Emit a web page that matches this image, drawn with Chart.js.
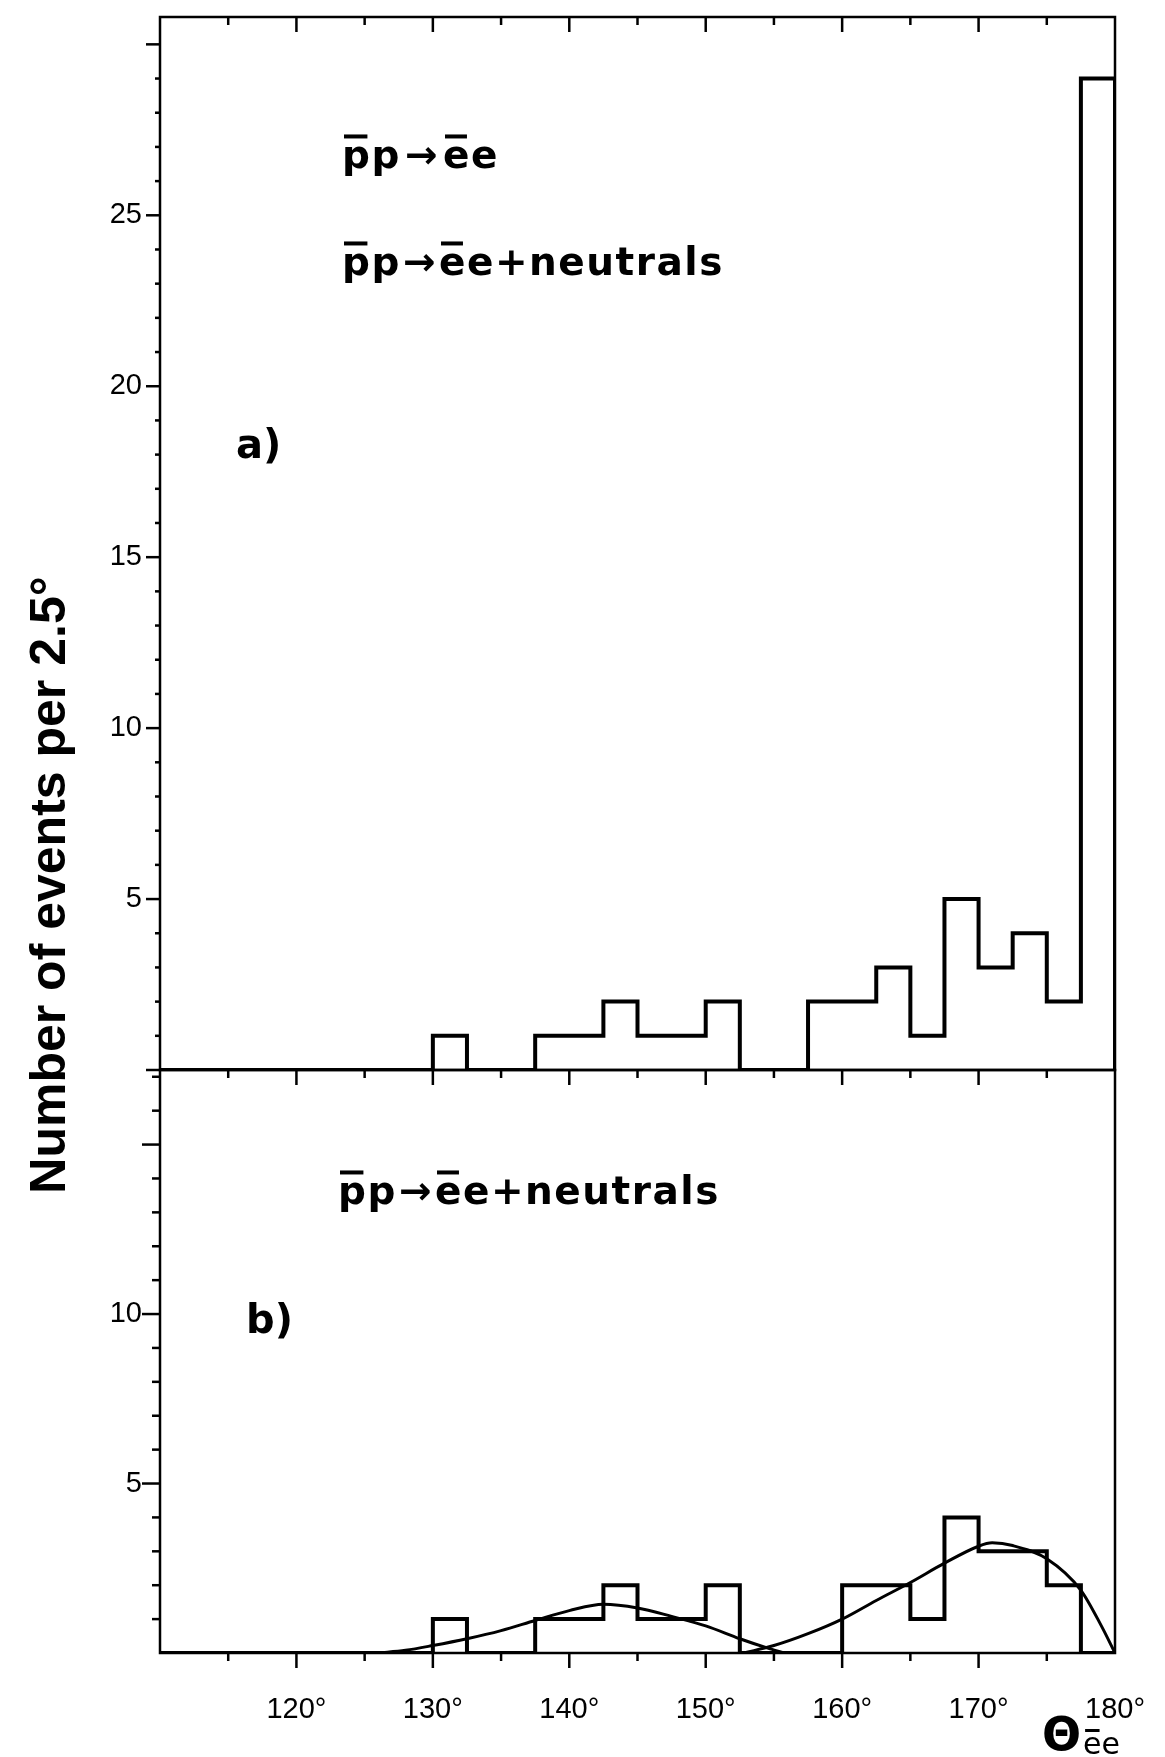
<!DOCTYPE html>
<html>
<head>
<meta charset="utf-8">
<script src="https://cdn.jsdelivr.net/npm/chart.js@4.4.1/dist/chart.umd.min.js"></script>
<style>
  html, body { margin: 0; padding: 0; background: #fff; }
  body { width: 1165px; height: 1757px; position: relative; overflow: hidden; }
  canvas { position: absolute; left: 0; top: 0; }
</style>
</head>
<body>
<canvas id="chartA" width="1165" height="1757"></canvas>
<canvas id="chartB" width="1165" height="1757"></canvas>
<script>
// bin edges (degrees), 2.5 degree bins
const binEdges = [110, 112.5, 115, 117.5, 120, 122.5, 125, 127.5, 130, 132.5, 135, 137.5, 140, 142.5,
                  145, 147.5, 150, 152.5, 155, 157.5, 160, 162.5, 165, 167.5, 170, 172.5, 175, 177.5, 180];
// a) pp -> ee and pp -> ee + neutrals
const countsA = [0, 0, 0, 0, 0, 0, 0, 0, 1, 0, 0, 1, 1, 2, 1, 1, 2, 0, 0, 2, 2, 3, 1, 5, 3, 4, 2, 29];
// b) pp -> ee + neutrals
const countsB = [0, 0, 0, 0, 0, 0, 0, 0, 1, 0, 0, 1, 1, 2, 1, 1, 2, 0, 0, 0, 2, 2, 1, 4, 3, 3, 2, 0];

// fitted curves in b)
const fitLowX = [126, 128, 130, 132.5, 135, 137.5, 140, 142.5, 145, 147.5, 150, 152.5, 154.5, 155.8];
const fitLowY = [0, 0.08, 0.22, 0.42, 0.66, 0.96, 1.25, 1.44, 1.33, 1.08, 0.8, 0.42, 0.15, 0];
const fitHighX = [152.8, 155, 157.5, 160, 162.5, 165, 167.5, 170, 171, 172.5, 175, 177.5, 179, 180];
const fitHighY = [0, 0.22, 0.57, 1.0, 1.55, 2.08, 2.65, 3.15, 3.25, 3.17, 2.78, 1.85, 0.8, 0];

const xTickValues = [120, 130, 140, 150, 160, 170, 180];
const yTicksA = [5, 10, 15, 20, 25];
const yTicksB = [5, 10];

const tickFont = { family: '"Liberation Sans", Arial, sans-serif', size: 29 };
const textFont = '"DejaVu Sans", sans-serif';

function histPoints(counts) {
    const pts = counts.map((c, i) => ({ x: binEdges[i], y: c }));
    pts.push({ x: binEdges[binEdges.length - 1], y: 0 });
    return pts;
}

function line(ctx, x1, y1, x2, y2) {
    ctx.beginPath();
    ctx.moveTo(x1, y1);
    ctx.lineTo(x2, y2);
    ctx.stroke();
}

// box, tick marks (minor every 1 event / 5 degrees)
const framePlugin = {
    id: 'frame',
    afterDraw(chart, args, opts) {
        const ctx = chart.ctx;
        const { left, right, top, bottom } = chart.chartArea;
        const xs = chart.scales.x, ys = chart.scales.y;
        ctx.save();
        ctx.strokeStyle = '#000';
        ctx.lineWidth = 2.5;
        ctx.strokeRect(left, top, right - left, bottom - top);
        for (let v = 0; v <= ys.max; v++) {
            const py = ys.getPixelForValue(v);
            let len = v % 5 === 0 ? opts.major : opts.minor;
            if (v === 0) len = opts.zeroTick;
            if (len) line(ctx, left - len, py, left, py);
        }
        for (let d = 115; d < 180; d += 5) {
            const px = xs.getPixelForValue(d);
            const len = d % 10 === 0 ? 15 : 8;
            line(ctx, px, bottom, px, bottom + len);
            if (opts.topTicks) line(ctx, px, top, px, top + len);
        }
        ctx.restore();
    }
};

function drawFormula(ctx, x, y, parts, size) {
    ctx.font = 'bold ' + size + 'px ' + textFont;
    ctx.letterSpacing = '1.5px';
    let cx = x;
    for (const p of parts) {
        const w = ctx.measureText(p.t).width;
        ctx.fillText(p.t, cx, y);
        if (p.bar) ctx.fillRect(cx + 2, y - size * 0.86, w - 6, 4);
        cx += w + (p.gap || 0);
    }
}

const reactionShort = [{ t: 'p', bar: true }, { t: 'p', gap: 4 }, { t: '→', gap: 4 }, { t: 'e', bar: true }, { t: 'e' }];
const reactionLong = [{ t: 'p', bar: true }, { t: 'p', gap: 2 }, { t: '→', gap: 2 }, { t: 'e', bar: true }, { t: 'e' }, { t: '+neutrals' }];

const labelsPlugin = {
    id: 'labels',
    afterDraw(chart, args, opts) {
        const ctx = chart.ctx;
        ctx.save();
        ctx.fillStyle = '#000';
        ctx.textBaseline = 'alphabetic';
        ctx.textAlign = 'left';
        if (opts.panel === 'a') {
            drawFormula(ctx, 342, 168, reactionShort, 39);
            drawFormula(ctx, 342, 275, reactionLong, 39);
            ctx.letterSpacing = '0px';
            ctx.font = 'bold 40px ' + textFont;
            ctx.fillText('a)', 236, 458);
            // y axis title
            ctx.save();
            ctx.translate(65, 885);
            ctx.rotate(-Math.PI / 2);
            ctx.textAlign = 'center';
            ctx.font = 'bold 50px "Liberation Sans", Arial, sans-serif';
            ctx.fillText('Number of events per 2.5°', 0, 0);
            ctx.restore();
        } else {
            drawFormula(ctx, 338, 1204, reactionLong, 39);
            ctx.letterSpacing = '0px';
            ctx.font = 'bold 40px ' + textFont;
            ctx.fillText('b)', 246, 1333);
            // x axis title
            ctx.font = 'bold 46px ' + textFont;
            ctx.fillText('Θ', 1042, 1750);
            const tw = ctx.measureText('Θ').width;
            ctx.font = '30px ' + textFont;
            const ew = ctx.measureText('e').width;
            ctx.fillText('ee', tw + 1044, 1754);
            ctx.fillRect(tw + 1046, 1729, ew - 4, 3);
        }
        ctx.restore();
    }
};

function histDataset(counts) {
    return {
        data: histPoints(counts),
        stepped: true,
        borderColor: '#000',
        borderWidth: 4,
        pointRadius: 0,
        fill: false
    };
}

function fitDataset(xs, ys) {
    return {
        data: xs.map((x, i) => ({ x: x, y: ys[i] })),
        borderColor: '#000',
        borderWidth: 3,
        pointRadius: 0,
        fill: false,
        cubicInterpolationMode: 'monotone'
    };
}

function noPad(s) {
    s.paddingTop = 0;
    s.paddingBottom = 0;
    s.paddingLeft = 0;
    s.paddingRight = 0;
}

function yScale(maxVal, tickList) {
    return {
        type: 'linear',
        min: 0,
        max: maxVal,
        grid: { display: false, drawTicks: false },
        border: { display: false },
        afterBuildTicks: s => { s.ticks = tickList.map(v => ({ value: v })); },
        afterFit: s => { s.width = 160; noPad(s); },
        ticks: { font: tickFont, color: '#000', padding: 18 }
    };
}

// Panel a
new Chart(document.getElementById('chartA').getContext('2d'), {
    type: 'line',
    data: { datasets: [histDataset(countsA)] },
    options: {
        responsive: false,
        animation: false,
        layout: { padding: { top: 17, right: 50, bottom: 687, left: 0 } },
        plugins: {
            legend: { display: false },
            tooltip: { enabled: false },
            frame: { zeroTick: 14, major: 14, minor: 5, topTicks: true },
            labels: { panel: 'a' }
        },
        scales: {
            x: { type: 'linear', min: 110, max: 180, display: false },
            y: yScale(30.8, yTicksA)
        }
    },
    plugins: [framePlugin, labelsPlugin]
});

// Panel b
new Chart(document.getElementById('chartB').getContext('2d'), {
    type: 'line',
    data: {
        datasets: [
            histDataset(countsB),
            fitDataset(fitLowX, fitLowY),
            fitDataset(fitHighX, fitHighY)
        ]
    },
    options: {
        responsive: false,
        animation: false,
        layout: { padding: { top: 1070, right: 50, bottom: 0, left: 0 } },
        plugins: {
            legend: { display: false },
            tooltip: { enabled: false },
            frame: { zeroTick: 0, major: 18, minor: 8, topTicks: false },
            labels: { panel: 'b' }
        },
        scales: {
            x: {
                type: 'linear',
                min: 110,
                max: 180,
                grid: { display: false, drawTicks: false },
                border: { display: false },
                afterBuildTicks: s => { s.ticks = xTickValues.map(v => ({ value: v })); },
                afterFit: s => { s.height = 104; noPad(s); },
                ticks: {
                    font: tickFont,
                    color: '#000',
                    padding: 40,
                    maxRotation: 0,
                    autoSkip: false,
                    callback: v => v + '°'
                }
            },
            y: yScale(17.2, yTicksB)
        }
    },
    plugins: [framePlugin, labelsPlugin]
});
</script>
</body>
</html>
